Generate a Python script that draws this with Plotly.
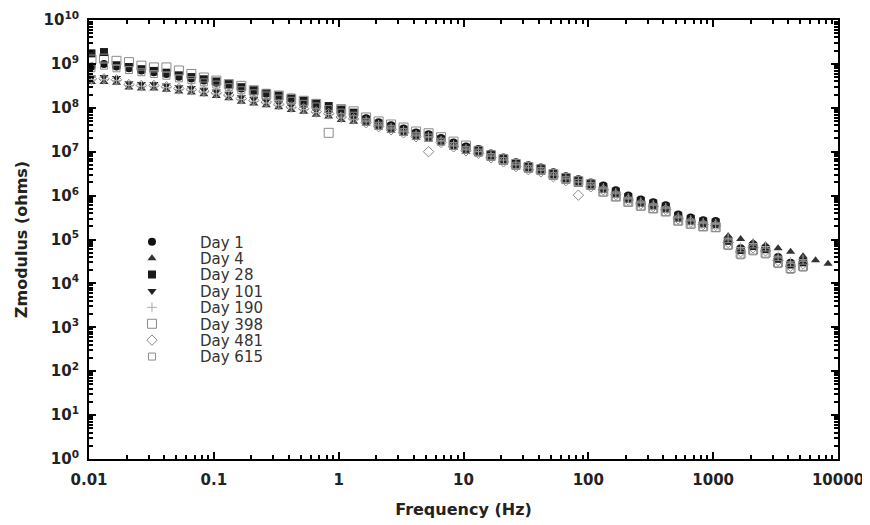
import plotly.graph_objects as go

# Frequencies (Hz), 10 points per decade
freq = [0.01047, 0.01318, 0.0166, 0.02089, 0.0263, 0.03311, 0.04169, 0.05248, 0.06607, 0.08318,
        0.1047, 0.1318, 0.166, 0.2089, 0.263, 0.3311, 0.4169, 0.5248, 0.6607, 0.8318,
        1.047, 1.318, 1.66, 2.089, 2.63, 3.311, 4.169, 5.248, 6.607, 8.318,
        10.47, 13.18, 16.6, 20.89, 26.3, 33.11, 41.69, 52.48, 66.07, 83.18,
        104.7, 131.8, 166, 208.9, 263, 331.1, 416.9, 524.8, 660.7, 831.8,
        1047, 1318, 1660, 2089, 2630, 3311, 4169, 5248, 6607, 8318]

# |Z|, stored as log10(ohms)
day1_log = [8.94, 9.00, 8.94, 8.90, 8.85, 8.81, 8.77, 8.71, 8.67, 8.62, 8.57, 8.51, 8.44, 8.37, 8.32, 8.25, 8.20, 8.13, 8.07, 8.01, 7.93, 7.86,
            7.76, 7.67, 7.60, 7.53, 7.44, 7.40, 7.31, 7.21, 7.12, 7.06, 6.96, 6.87, 6.76, 6.69, 6.64, 6.53, 6.44, 6.37, 6.30, 6.23, 6.12, 6.00, 5.91, 5.85, 5.78, 5.57, 5.50, 5.44, 5.42,
            5.01, 4.80, 4.89, 4.82, 4.60, 4.47, 4.52]
day4_log = [8.59, 8.59, 8.57, 8.46, 8.44, 8.44, 8.41, 8.37, 8.35, 8.31, 8.27, 8.22, 8.14, 8.10, 8.06, 8.01, 7.95, 7.91, 7.84, 7.80, 7.72, 7.68,
            7.64, 7.55, 7.48, 7.41, 7.32, 7.28, 7.19, 7.09, 7.00, 6.94, 6.84, 6.75, 6.64, 6.57, 6.52, 6.41, 6.32, 6.25, 6.18, 6.11, 6.00, 5.88, 5.79, 5.73, 5.66, 5.45, 5.38, 5.32, 5.30,
            5.08, 5.01, 4.93, 4.87, 4.80, 4.72, 4.62, 4.53, 4.45]
day28_log = [9.24, 9.27, 8.97, 8.93, 8.88, 8.84, 8.80, 8.74, 8.70, 8.65, 8.60, 8.54, 8.47, 8.40, 8.34, 8.28, 8.23, 8.16, 8.10, 8.04, 7.96, 7.89,
             7.73, 7.64, 7.57, 7.50, 7.41, 7.37, 7.28, 7.18, 7.09, 7.03, 6.93, 6.84, 6.73, 6.66, 6.61, 6.50, 6.41, 6.34, 6.27, 6.20, 6.09, 5.97, 5.88, 5.82, 5.75, 5.54, 5.47, 5.41, 5.39,
             4.97, 4.76, 4.85, 4.78, 4.56, 4.43, 4.48]
day101_log = [8.69, 8.70, 8.68, 8.56, 8.54, 8.54, 8.51, 8.47, 8.45, 8.41, 8.37, 8.32, 8.24, 8.20, 8.16, 8.11, 8.05, 8.01, 7.94, 7.89, 7.81, 7.76,
              7.69, 7.60, 7.53, 7.46, 7.37, 7.33, 7.24, 7.14, 7.05, 6.99, 6.89, 6.80, 6.69, 6.62, 6.57, 6.46, 6.37, 6.30, 6.23, 6.16, 6.05, 5.93, 5.84, 5.78, 5.71, 5.50, 5.43, 5.37, 5.35,
              4.99, 4.78, 4.87, 4.80, 4.58, 4.45, 4.50]
day190_log = [8.64, 8.64, 8.62, 8.51, 8.49, 8.49, 8.46, 8.42, 8.40, 8.36, 8.32, 8.27, 8.19, 8.15, 8.11, 8.06, 8.00, 7.96, 7.89, 7.85, 7.77, 7.73,
              7.70, 7.61, 7.54, 7.47, 7.38, 7.34, 7.25, 7.15, 7.06, 7.00, 6.90, 6.81, 6.70, 6.63, 6.58, 6.47, 6.38, 6.31, 6.24, 6.17, 6.06, 5.94, 5.85, 5.79, 5.72, 5.51, 5.44, 5.38, 5.36,
              5.03, 4.82, 4.91, 4.84, 4.62, 4.49, 4.54]
day398_log = [9.10, 9.12, 9.07, 9.04, 8.96, 8.92, 8.92, 8.85, 8.77, 8.69, 8.62, 8.54, 8.50, 8.40, 8.31, 8.28, 8.20, 8.16, 8.09, 7.43, 7.97, 7.92,
              7.78, 7.69, 7.62, 7.55, 7.46, 7.42, 7.33, 7.23, 7.14, 7.02, 6.92, 6.83, 6.72, 6.65, 6.60, 6.49, 6.40, 6.33, 6.26, 6.09, 5.98, 5.86, 5.77, 5.71, 5.64, 5.43, 5.36, 5.30, 5.28,
              4.89, 4.68, 4.77, 4.70, 4.48, 4.35, 4.40]
day481_log = [8.66, 8.66, 8.64, 8.53, 8.51, 8.51, 8.48, 8.44, 8.42, 8.38, 8.34, 8.29, 8.21, 8.17, 8.13, 8.08, 8.02, 7.98, 7.91, 7.87, 7.79, 7.75,
              7.66, 7.57, 7.50, 7.43, 7.34, 7.00, 7.21, 7.11, 7.02, 6.96, 6.86, 6.77, 6.66, 6.59, 6.54, 6.43, 6.34, 6.01, 6.20, 6.13, 6.02, 5.90, 5.81, 5.75, 5.68, 5.47, 5.40, 5.34, 5.32,
              4.93, 4.72, 4.81, 4.74, 4.52, 4.39, 4.44]
day615_log = [8.90, 8.96, 8.90, 8.86, 8.81, 8.77, 8.73, 8.67, 8.63, 8.58, 8.53, 8.47, 8.40, 8.33, 8.28, 8.21, 8.16, 8.09, 8.03, 7.97, 7.89, 7.82,
              7.68, 7.59, 7.52, 7.45, 7.36, 7.32, 7.23, 7.13, 7.04, 6.98, 6.88, 6.79, 6.68, 6.61, 6.56, 6.45, 6.36, 6.29, 6.22, 6.07, 5.96, 5.84, 5.75, 5.69, 5.62, 5.41, 5.34, 5.28, 5.26,
              4.85, 4.64, 4.73, 4.66, 4.44, 4.31, 4.36]

x_tickvals = [0.01, 0.1, 1, 10, 100, 1000, 10000]
x_ticktext = ["<b>0.01</b>", "<b>0.1</b>", "<b>1</b>", "<b>10</b>", "<b>100</b>", "<b>1000</b>", "<b>10000</b>"]
y_tickvals = [1, 10, 1e2, 1e3, 1e4, 1e5, 1e6, 1e7, 1e8, 1e9, 1e10]
y_ticktext = ["<b>10<sup>%d</sup></b>" % p for p in range(11)]

series = [
    ("Day 1", day1_log, dict(symbol="circle", size=8, color="#111111")),
    ("Day 4", day4_log, dict(symbol="triangle-up", size=8, color="#333333")),
    ("Day 28", day28_log, dict(symbol="square", size=8, color="#1a1a1a")),
    ("Day 101", day101_log, dict(symbol="triangle-down", size=8, color="#222222")),
    ("Day 190", day190_log, dict(symbol="cross-thin-open", size=7, color="#aaaaaa", line=dict(width=1, color="#aaaaaa"))),
    ("Day 398", day398_log, dict(symbol="square-open", size=9, color="#8a8a8a", line=dict(width=1, color="#8a8a8a"))),
    ("Day 481", day481_log, dict(symbol="diamond-open", size=8, color="#8a8a8a", line=dict(width=1, color="#8a8a8a"))),
    ("Day 615", day615_log, dict(symbol="square-open", size=7, color="#8a8a8a", line=dict(width=1, color="#8a8a8a"))),
]

FONT = "DejaVu Sans, Verdana, sans-serif"
# page body has an 8px margin, so the figure is shifted by 8px
W, H = 862, 517
ML, MR, MT, MB = 81, 32, 12, 66
legend_px_y = [242, 258.4, 274.8, 291.2, 307.6, 324, 340.4, 356.8]  # window pixels
plot_top, plot_bot = 8 + MT, 8 + H - MB

fig = go.Figure()
layout_legends = {}
for i, (name, vals, mk) in enumerate(series):
    lname = "legend" if i == 0 else "legend%d" % (i + 1)
    fig.add_trace(go.Scatter(
        x=freq[:len(vals)], y=[10 ** v for v in vals], mode="markers", name=name, marker=mk,
        legend=lname, showlegend=True))
    layout_legends[lname] = dict(
        x=0.02, y=(plot_bot - legend_px_y[i]) / (plot_bot - plot_top), xanchor="left", yanchor="middle",
        bgcolor="rgba(0,0,0,0)", borderwidth=0, itemwidth=86,
        font=dict(family=FONT, size=15, color="#333"))

axis_common = dict(
    type="log", showline=True, linewidth=2, linecolor="black", mirror="ticks",
    ticks="inside", ticklen=7, tickwidth=1.5, tickcolor="black", showgrid=False, zeroline=False,
    automargin=False, ticklabeloverflow="allow",
    tickfont=dict(family=FONT, size=15, color="#222"),
    minor=dict(ticks="inside", ticklen=4, tickcolor="black", dtick="D1", showgrid=False),
)

fig.update_xaxes(range=[-2, 4], tickmode="array", tickvals=x_tickvals, ticktext=x_ticktext,
                 ticklabelstandoff=6,
                 title=dict(text="<b>Frequency (Hz)</b>", standoff=16,
                            font=dict(family=FONT, size=16, color="#222")),
                 **axis_common)
fig.update_yaxes(range=[0, 10], tickmode="array", tickvals=y_tickvals, ticktext=y_ticktext,
                 ticklabelstandoff=5,
                 title=dict(text="<b>Zmodulus (ohms)</b>", standoff=12,
                            font=dict(family=FONT, size=16, color="#222")),
                 **axis_common)

fig.update_layout(
    width=W, height=H, plot_bgcolor="white", paper_bgcolor="white",
    margin=dict(l=ML, r=MR, t=MT, b=MB, autoexpand=False),
    font=dict(family=FONT),
    showlegend=True,
    **layout_legends,
)

fig.write_html("out.html")
